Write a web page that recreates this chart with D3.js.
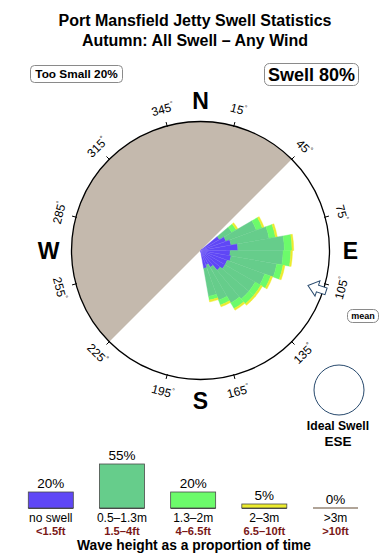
<!DOCTYPE html>
<html>
<head>
<meta charset="utf-8">
<script src="https://cdn.jsdelivr.net/npm/d3@7"></script>
<style>
  html, body { margin: 0; padding: 0; background: #fff; }
  svg { display: block; font-family: "Liberation Sans", Arial, Helvetica, sans-serif; }
</style>
</head>
<body>
<svg id="chart" width="390" height="560"></svg>
<script>
// ---------------- DATA ----------------
const titleLines = ["Port Mansfield Jetty Swell Statistics", "Autumn: All Swell \u2013 Any Wind"];
const tooSmallLabel = "Too Small 20%";
const swellLabel = "Swell 80%";

// direction sectors (start angle, degrees from north, 10° wide)
const sectorStart = [50, 60, 70, 80, 90, 100, 110, 120, 130, 140, 150, 160];
const sectorWidth = 10;
// stacked band sizes per sector (radial units, 100 = rim)
const bandNoSwell = [17, 21, 24, 29, 23, 24, 22, 22, 20, 15, 12, 14];
const bandSmall   = [11, 25, 30, 36, 41, 36, 31, 27, 29, 32, 29, 22];
const bandMedium  = [4, 5, 5, 6, 6, 5, 5, 5, 5, 5, 4, 3];
const bandLarge   = [1.5, 1.5, 1.5, 1.3, 1.3, 1.5, 1.5, 1.5, 1.5, 1.5, 1.5, 1.5];
const bandHuge    = [0, 0, 0, 0, 0, 0, 0, 0, 0, 0, 0, 0];

const landFrom = 225, landTo = 405;        // shadowed (land) sector
const meanDirection = 108;                  // mean swell arrow
const degreeTicks = [15, 45, 75, 105, 135, 165, 195, 225, 255, 285, 315, 345];
const compass = [["N", 0], ["E", 90], ["S", 180], ["W", 270]];

// legend
const legendPct = [20, 55, 20, 5, 0];
const legendMetric = ["no swell", "0.5\u20131.3m", "1.3\u20132m", "2\u20133m", ">3m"];
const legendFeet = ["<1.5ft", "1.5\u20134ft", "4\u20136.5ft", "6.5\u201310ft", ">10ft"];
const bandColors = ["#5f47f6", "#66cd8b", "#6cfb6b", "#ecec2e", "#c4b9ad"];
const legendCaption = "Wave height as a proportion of time";
const idealLabel = ["Ideal Swell", "ESE"];

// ---------------- DRAW ----------------
const svg = d3.select("#chart");
const cx = 200.5, cy = 250.5, R = 129;
const rad = d => d * Math.PI / 180;
const r = d3.scaleLinear().domain([0, 100]).range([0, R]);

// Titles
svg.selectAll("text.title").data(titleLines).join("text")
  .attr("class", "title")
  .attr("x", 195).attr("y", (d, i) => 26 + i * 20)
  .attr("text-anchor", "middle").attr("font-weight", "bold").attr("font-size", 16)
  .text(d => d);

// Rounded label boxes
function box(x, y, w, h, rx, txt, fs) {
  svg.append("rect").attr("x", x).attr("y", y).attr("width", w).attr("height", h)
    .attr("rx", rx).attr("fill", "#fff").attr("stroke", "#8a8a8a").attr("stroke-width", 1);
  svg.append("text").attr("x", x + w / 2).attr("y", y + h / 2)
    .attr("text-anchor", "middle").attr("dominant-baseline", "central")
    .attr("font-weight", "bold").attr("font-size", fs).text(txt);
}
box(30.5, 65.5, 92, 17, 4, tooSmallLabel, 11.8);
box(264.5, 63.5, 94, 22, 5, swellLabel, 18);

const g = svg.append("g").attr("transform", `translate(${cx},${cy})`);

// land
g.append("path")
  .attr("d", d3.arc()({ innerRadius: 0, outerRadius: R, startAngle: rad(landFrom), endAngle: rad(landTo) }))
  .attr("fill", "#c4b9ad");

// rose (stacked bands)
const bands = [bandNoSwell, bandSmall, bandMedium, bandLarge, bandHuge];
const segs = [];
sectorStart.forEach((s, i) => {
  let acc = 0;
  bands.forEach((b, k) => {
    const v = b[i];
    if (v > 0) segs.push({ s, inner: acc, outer: acc + v, k });
    acc += v;
  });
});
const arcGen = d3.arc();
g.selectAll("path.seg").data(segs).join("path")
  .attr("class", "seg")
  .attr("d", d => arcGen({ innerRadius: r(d.inner), outerRadius: r(d.outer),
                           startAngle: rad(d.s), endAngle: rad(d.s + sectorWidth) }))
  .attr("fill", d => bandColors[d.k])
  .attr("stroke", d => bandColors[d.k]).attr("stroke-width", 0.4);

// faint sector seams
g.selectAll("line.seam").data(sectorStart.slice(1)).join("line")
  .attr("class", "seam")
  .attr("x1", 0).attr("y1", 0)
  .attr("x2", d => Math.sin(rad(d)) * r(20))
  .attr("y2", d => -Math.cos(rad(d)) * r(20))
  .attr("stroke", "#fff").attr("stroke-opacity", 0.12).attr("stroke-width", 0.6);

// outer circle
g.append("circle").attr("r", R).attr("fill", "none").attr("stroke", "#000").attr("stroke-width", 1.3);

// ticks + degree labels
g.selectAll("line.tick").data(degreeTicks).join("line")
  .attr("class", "tick")
  .attr("x1", d => Math.sin(rad(d)) * (R - 1)).attr("y1", d => -Math.cos(rad(d)) * (R - 1))
  .attr("x2", d => Math.sin(rad(d)) * (R + 4)).attr("y2", d => -Math.cos(rad(d)) * (R + 4))
  .attr("stroke", "#000").attr("stroke-width", 1);

const degLab = g.selectAll("text.deg").data(degreeTicks).join("text")
  .attr("class", "deg")
  .attr("transform", d => {
    const x = Math.sin(rad(d)) * 146, y = -Math.cos(rad(d)) * 146;
    const rot = ((d + 90) % 180) - 90;
    return `translate(${x},${y}) rotate(${rot})`;
  })
  .attr("text-anchor", "middle").attr("dominant-baseline", "central")
  .attr("font-size", 12);
degLab.append("tspan").text(d => d);
degLab.append("tspan").attr("font-size", 7).attr("dy", -4).text("\u00b0");

// compass letters
g.selectAll("text.cmp").data(compass).join("text")
  .attr("class", "cmp")
  .attr("x", d => Math.sin(rad(d[1])) * 150 + (d[0] === "W" ? -2 : 0))
  .attr("y", d => -Math.cos(rad(d[1])) * 150)
  .attr("text-anchor", "middle").attr("dominant-baseline", "central")
  .attr("font-weight", "bold").attr("font-size", 23)
  .text(d => d[0]);

// mean arrow
g.append("path")
  .attr("d", "M0,-113 L8,-123 L3.5,-123 L3.5,-132 L-3.5,-132 L-3.5,-123 L-8,-123 Z")
  .attr("transform", `rotate(${meanDirection})`)
  .attr("fill", "#fff").attr("stroke", "#27496d").attr("stroke-width", 1);

// mean box
svg.append("rect").attr("x", 347.5).attr("y", 309.5).attr("width", 31).attr("height", 13)
  .attr("rx", 5).attr("fill", "#fff").attr("stroke", "#8a8a8a");
svg.append("text").attr("x", 363).attr("y", 316).attr("text-anchor", "middle")
  .attr("dominant-baseline", "central").attr("font-size", 9).attr("font-weight", "bold").text("mean");

// ideal swell
svg.append("circle").attr("cx", 339).attr("cy", 390).attr("r", 25)
  .attr("fill", "#fff").attr("stroke", "#27496d").attr("stroke-width", 1);
svg.append("text").attr("x", 338).attr("y", 429.5).attr("text-anchor", "middle")
  .attr("font-weight", "bold").attr("font-size", 12.2).text(idealLabel[0]);
svg.append("text").attr("x", 338).attr("y", 445.5).attr("text-anchor", "middle")
  .attr("font-weight", "bold").attr("font-size", 13.5).text(idealLabel[1]);

// ---------------- LEGEND ----------------
const lx = d3.scalePoint().domain(d3.range(legendPct.length)).range([50.8, 335.5]);
const ly = d3.scaleLinear().domain([0, 55]).range([508, 464]);
const barW = 45;
const lg = svg.append("g");
// baseline strip of each bar (visible even for 0%)
lg.selectAll("line.base").data(legendPct).join("line")
  .attr("class", "base")
  .attr("x1", (d, i) => lx(i) - barW / 2).attr("x2", (d, i) => lx(i) + barW / 2)
  .attr("y1", ly(0)).attr("y2", ly(0))
  .attr("stroke", (d, i) => d > 0 ? "#4a4a4a" : "#b0a498")
  .attr("stroke-width", 2);
lg.selectAll("rect.bar").data(legendPct.map((v, i) => ({ v, i })).filter(d => d.v > 0)).join("rect")
  .attr("class", "bar")
  .attr("x", d => lx(d.i) - barW / 2).attr("y", d => ly(d.v))
  .attr("width", barW).attr("height", d => ly(0) - ly(d.v))
  .attr("fill", d => bandColors[d.i])
  .attr("stroke", "#4a4a4a").attr("stroke-width", 0.8);
lg.selectAll("text.pct").data(legendPct).join("text")
  .attr("class", "pct")
  .attr("x", (d, i) => lx(i)).attr("y", d => ly(d) - 4)
  .attr("text-anchor", "middle").attr("font-size", 13.5)
  .text(d => d + "%");
lg.selectAll("text.met").data(legendMetric).join("text")
  .attr("class", "met")
  .attr("x", (d, i) => lx(i)).attr("y", 521.5)
  .attr("text-anchor", "middle").attr("font-size", 12)
  .text(d => d);
lg.selectAll("text.ft").data(legendFeet).join("text")
  .attr("class", "ft")
  .attr("x", (d, i) => lx(i)).attr("y", 534.5)
  .attr("text-anchor", "middle").attr("font-size", 11.2).attr("font-weight", "bold")
  .attr("fill", "#7a1818")
  .text(d => d);
lg.append("text").attr("x", 194).attr("y", 550).attr("text-anchor", "middle")
  .attr("font-size", 13.8).attr("font-weight", "bold").text(legendCaption);
</script>
</body>
</html>
